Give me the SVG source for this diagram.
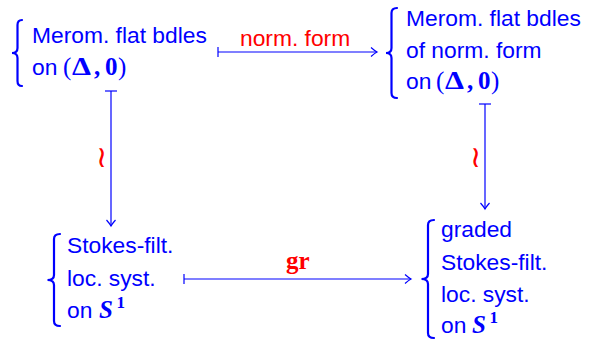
<svg xmlns="http://www.w3.org/2000/svg" width="595" height="340" viewBox="0 0 595 340">
<defs>
<style>
.t{font-family:"Liberation Sans",Arial,sans-serif;font-size:22.8px;fill:#0000ff}
.m{font-family:"Liberation Serif","Times New Roman",serif;font-size:25px}
.mb{font-weight:bold}
.mi{font-style:italic;font-weight:bold}
.sup{font-family:"Liberation Serif","Times New Roman",serif;font-size:17px;font-weight:bold}
.lab{font-family:"Liberation Sans",Arial,sans-serif;font-size:22.8px;fill:#ff0000}
.labm{font-family:"Liberation Serif","Times New Roman",serif;font-size:25px;font-weight:bold;fill:#ff0000}
.wr{font-family:"DejaVu Sans",sans-serif;font-size:30px;fill:#ff0000}
.br{fill:none;stroke:#0000ff;stroke-width:2.2;stroke-linecap:round}
.ln{fill:none;stroke:#0000ff;stroke-width:1.2}
</style>
<marker id="ah" markerWidth="12" markerHeight="12" refX="0" refY="0" viewBox="-8 -6 10 12" orient="auto" markerUnits="userSpaceOnUse">
<path d="M-6,-4.5 Q-2,-1 0,0 Q-2,1 -6,4.5" fill="none" stroke="#0000ff" stroke-width="1.2"/>
</marker>
</defs>

<g id="n1">
<path class="br" d="M22,20 Q17.5,20 17.5,25 L17.5,48 Q17.5,53 12,53 Q17.5,53 17.5,58 L17.5,81 Q17.5,86 22,86"/>
<text class="t" x="32" y="42.5">Merom. flat bdles</text>
<text class="t" x="32" y="75">on<tspan class="m" x="63">(</tspan><tspan class="m mb" x="72" textLength="19" lengthAdjust="spacingAndGlyphs">Δ</tspan><tspan class="m mb" x="94">,</tspan><tspan class="m mb" x="105">0</tspan><tspan class="m" x="118">)</tspan></text>
</g>

<g id="n2">
<path class="br" d="M397,8 Q391.5,8 391.5,13 L391.5,48 Q391.5,53 386,53 Q391.5,53 391.5,58 L391.5,93 Q391.5,98 397,98"/>
<text class="t" x="406" y="26">Merom. flat bdles</text>
<text class="t" x="406" y="57.5">of norm. form</text>
<text class="t" x="406" y="89">on<tspan class="m" x="436">(</tspan><tspan class="m mb" x="445" textLength="19" lengthAdjust="spacingAndGlyphs">Δ</tspan><tspan class="m mb" x="467">,</tspan><tspan class="m mb" x="478">0</tspan><tspan class="m" x="491">)</tspan></text>
</g>

<g id="n3">
<path class="br" d="M60,234 Q54,234 54,239 L54,275 Q54,280 47.5,280 Q54,280 54,285 L54,321 Q54,326 60,326"/>
<text class="t" x="67" y="253">Stokes-filt.</text>
<text class="t" x="67" y="286">loc. syst.</text>
<text class="t" x="67" y="318">on<tspan class="m mi" x="99">S</tspan><tspan class="sup" x="116.5" dy="-10">1</tspan></text>
</g>

<g id="n4">
<path class="br" d="M434,220 Q428,220 428,225 L428,274 Q428,279 421.5,279 Q428,279 428,284 L428,333 Q428,338 434,338"/>
<text class="t" x="441" y="237">graded</text>
<text class="t" x="441" y="270">Stokes-filt.</text>
<text class="t" x="441" y="302">loc. syst.</text>
<text class="t" x="441" y="333">on<tspan class="m mi" x="472">S</tspan><tspan class="sup" x="489.5" dy="-10">1</tspan></text>
</g>

<g id="connectors">
<line class="ln" x1="218" y1="52" x2="377" y2="52" marker-end="url(#ah)"/>
<line class="ln" x1="218" y1="47" x2="218" y2="57"/>
<text class="lab" x="240" y="45.5">norm. form</text>

<line class="ln" x1="184" y1="279" x2="411" y2="279" marker-end="url(#ah)"/>
<line class="ln" x1="184" y1="274" x2="184" y2="284"/>
<text class="labm" x="286" y="269">gr</text>

<line class="ln" x1="111" y1="91" x2="111" y2="226" marker-end="url(#ah)"/>
<line class="ln" x1="105" y1="91" x2="117" y2="91"/>
<text class="wr" x="101.5" y="167" text-anchor="middle">≀</text>

<line class="ln" x1="485" y1="104" x2="485" y2="209" marker-end="url(#ah)"/>
<line class="ln" x1="479" y1="104" x2="491" y2="104"/>
<text class="wr" x="475.5" y="167" text-anchor="middle">≀</text>
</g>
</svg>
